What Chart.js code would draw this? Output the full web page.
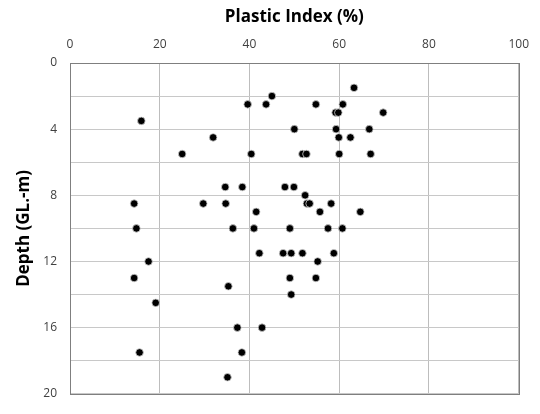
<!DOCTYPE html>
<html>
<head>
<meta charset="utf-8">
<script src="https://cdn.jsdelivr.net/npm/chart.js@4/dist/chart.umd.min.js"></script>
<style>
  html, body { margin: 0; padding: 0; background: #fff; }
  #wrap { width: 540px; height: 414px; }
</style>
</head>
<body>
<div id="wrap"><canvas id="piChart"></canvas></div>
<script>
// Plastic index (%) vs depth (m)
const plasticIndex = [
  45, 39.6, 43.7, 15.9, 50, 31.9, 25, 40.4, 34.6, 38.4, 47.9, 49.9, 14.3, 29.7, 34.7, 41.5, 14.8, 36.3, 41, 49,
  63.3, 54.8, 60.8, 59.2, 59.8, 69.8, 59.3, 66.7, 59.9, 62.5, 51.8, 52.7, 60, 67, 52.4, 52.8, 53.4, 58.2, 55.7, 64.7, 57.5, 60.7,
  42.2, 47.5, 49.3, 51.8, 58.8, 17.5, 55.2, 14.3, 49, 54.8, 35.3, 49.3, 19.1, 37.3, 42.8, 15.5, 38.3, 35.1
];
const depth = [
  2, 2.5, 2.5, 3.5, 4, 4.5, 5.5, 5.5, 7.5, 7.5, 7.5, 7.5, 8.5, 8.5, 8.5, 9, 10, 10, 10, 10,
  1.5, 2.5, 2.5, 3, 3, 3, 4, 4, 4.5, 4.5, 5.5, 5.5, 5.5, 5.5, 8, 8.5, 8.5, 8.5, 9, 9, 10, 10,
  11.5, 11.5, 11.5, 11.5, 11.5, 12, 12, 13, 13, 13, 13.5, 14, 14.5, 16, 16, 17.5, 17.5, 19
];
const xTicks = [0, 20, 40, 60, 80, 100];
const yLabelTicks = [0, 4, 8, 12, 16, 20];

const points = plasticIndex.map((v, i) => ({ x: v, y: depth[i] }));

// outline round the whole plot area
const frame = {
  id: 'frame',
  afterDraw(chart) {
    const a = chart.chartArea, c = chart.ctx;
    c.save();
    c.strokeStyle = '#7f7f7f';
    c.lineWidth = 1;
    c.strokeRect(Math.round(a.left) + 0.5, Math.round(a.top) + 0.5,
                 Math.round(a.right - a.left), Math.round(a.bottom - a.top));
    c.restore();
  }
};

new Chart(document.getElementById('piChart'), {
  type: 'scatter',
  data: {
    datasets: [{
      data: points,
      backgroundColor: '#000',
      borderColor: '#cfcfcf',
      borderWidth: 0.8,
      pointRadius: 3.8,
      pointHoverRadius: 3.8
    }]
  },
  options: {
    responsive: true,
    maintainAspectRatio: false,
    animation: false,
    layout: { padding: { left: 0, top: 0, right: 19, bottom: 5 } },
    plugins: { legend: { display: false }, tooltip: { enabled: false } },
    scales: {
      x: {
        position: 'top',
        min: 0, max: 100,
        afterFit(s) { s.height = 63; },
        afterBuildTicks(s) { s.ticks = xTicks.map(v => ({ value: v })); },
        grid: { color: '#bdbdbd', drawTicks: false },
        border: { display: false },
        ticks: { color: '#404040', padding: 11, font: { family: 'Open Sans', size: 12 } },
        title: {
          display: true, text: 'Plastic Index (%)', color: '#000',
          font: { family: 'Open Sans', size: 17, weight: 'bold' },
          padding: { top: 7, bottom: 4 }
        }
      },
      y: {
        reverse: true,
        min: 0, max: 20,
        afterFit(s) { s.width = 70; },
        ticks: {
          stepSize: 2, color: '#404040', padding: 13,
          font: { family: 'Open Sans', size: 12 },
          callback: v => yLabelTicks.includes(v) ? String(v) : ''
        },
        grid: { color: '#c8c8c8', drawTicks: false },
        border: { display: false },
        title: {
          display: true, text: 'Depth (GL.-m)', color: '#000',
          font: { family: 'Open Sans', size: 17, weight: 'bold' },
          padding: { top: 14, bottom: 4 }
        }
      }
    }
  },
  plugins: [frame]
});
</script>
</body>
</html>
